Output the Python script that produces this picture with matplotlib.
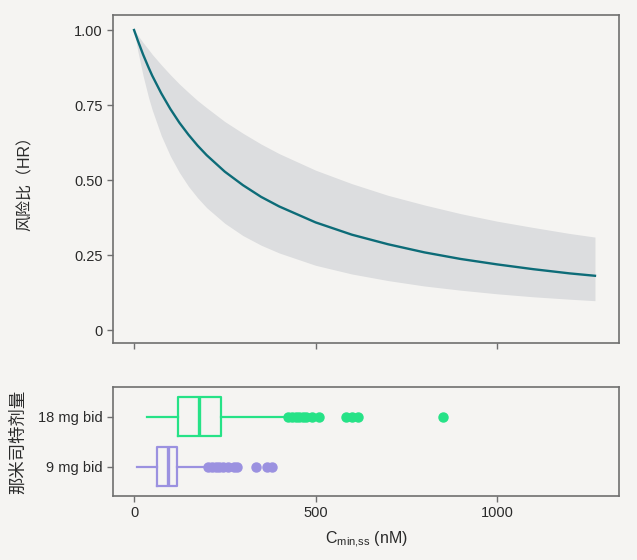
import numpy as np
import matplotlib.pyplot as plt

plt.rcParams['font.family'] = ['Liberation Sans', 'Noto Sans CJK SC', 'DejaVu Sans']

# exposure-response curve
conc = [0, 10, 25, 40, 50, 75, 100, 125, 150, 175, 200, 250, 300, 350, 400,
        500, 600, 700, 800, 900, 1000, 1100, 1200, 1270]
hr = [1.0, 0.966, 0.918, 0.875, 0.848, 0.789, 0.737, 0.691, 0.651, 0.615,
      0.583, 0.528, 0.483, 0.444, 0.412, 0.359, 0.318, 0.286, 0.259, 0.237,
      0.219, 0.203, 0.189, 0.181]
hr_low = [1.0, 0.932, 0.847, 0.775, 0.734, 0.648, 0.580, 0.525, 0.479, 0.441,
          0.408, 0.356, 0.315, 0.283, 0.257, 0.216, 0.187, 0.165, 0.147,
          0.133, 0.121, 0.111, 0.103, 0.098]
hr_high = [1.0, 0.983, 0.958, 0.935, 0.919, 0.884, 0.851, 0.820, 0.792, 0.765,
           0.741, 0.695, 0.656, 0.620, 0.588, 0.533, 0.488, 0.449, 0.417,
           0.388, 0.363, 0.342, 0.322, 0.310]

# box plot summaries of Cmin,ss per dose
doses = ['9 mg bid', '18 mg bid']
whislo = [9, 35]
q1 = [62, 120]
med = [93, 178]
q3 = [119, 239]
whishi = [200, 420]
fliers = [
    [205, 215, 225, 235, 245, 260, 275, 285, 335, 366, 381],
    [425, 435, 445, 455, 465, 475, 491, 509, 584, 600, 617, 850],
]
box_colors = ['#9b91e0', '#26e287']

bg = '#f5f4f2'
spine_c = '#6f6f6f'
txt_c = '#2a2a2a'

fig = plt.figure(figsize=(6.37, 5.6), dpi=100, facecolor=bg)
ax1 = fig.add_axes([0.1774, 0.3875, 0.7948, 0.5857])
ax2 = fig.add_axes([0.1774, 0.1143, 0.7948, 0.1941])

xlim = (-58, 1337)

for ax in (ax1, ax2):
    ax.set_facecolor(bg)
    for s in ax.spines.values():
        s.set_color(spine_c)
        s.set_linewidth(1.2)
    ax.tick_params(colors=spine_c, labelcolor=txt_c, labelsize=10.5,
                   length=4, width=1)
    ax.set_xlim(*xlim)

# top panel
ax1.fill_between(conc, hr_low, hr_high, color='#dcdddf', linewidth=0)
ax1.plot(conc, hr, color='#0d6c78', linewidth=1.7)
ax1.set_ylim(-0.043, 1.05)
ax1.set_yticks([0, 0.25, 0.5, 0.75, 1.0])
ax1.set_yticklabels(['0', '0.25', '0.50', '0.75', '1.00'])
ax1.set_xticks([0, 500, 1000])
ax1.set_xticklabels([])
ax1.set_ylabel('风险比（HR）', fontsize=11.5, color=txt_c)
ax1.yaxis.set_label_coords(-0.158, 0.5)

# bottom panel
positions = [1, 2]
for i in range(len(doses)):
    st = dict(label=doses[i], whislo=whislo[i], q1=q1[i], med=med[i],
              q3=q3[i], whishi=whishi[i], fliers=fliers[i])
    c = box_colors[i]
    ax2.bxp([st], positions=[positions[i]], vert=False, widths=0.78,
            showcaps=False, patch_artist=False,
            boxprops=dict(color=c, linewidth=1.6),
            medianprops=dict(color=c, linewidth=2.4),
            whiskerprops=dict(color=c, linewidth=1.6),
            flierprops=dict(marker='o', markerfacecolor=c, markeredgecolor=c,
                            markersize=6.5, linestyle='none'))
ax2.set_ylim(0.414, 2.588)
ax2.set_yticks(positions)
ax2.set_yticklabels(doses)
ax2.set_xticks([0, 500, 1000])
ax2.set_xticklabels(['0', '500', '1000'])
ax2.set_xlabel(r'C$_{\mathregular{min{,}ss}}$ (nM)', fontsize=11.5, color=txt_c,
               labelpad=7)
ax2.set_ylabel('那米司特剂量', fontsize=12.5, color=txt_c)
ax2.yaxis.set_label_coords(-0.172, 0.5)

fig.savefig('out.png', dpi=100, facecolor=bg)
